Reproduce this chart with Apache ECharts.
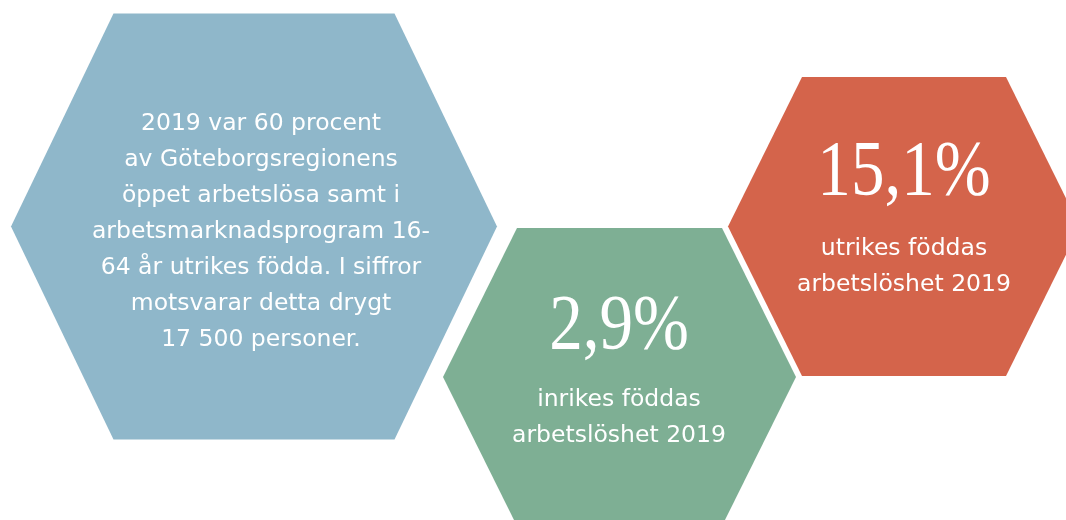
<!DOCTYPE html>
<html><head><meta charset="utf-8">
<script src="https://cdn.jsdelivr.net/npm/echarts@6/dist/echarts.min.js"></script>
<style>html,body{margin:0;padding:0;background:#fff}#c{width:1066px;height:520px}</style>
</head><body><div id="c"></div>
<script>
// ---- data ----
const categories = ['andel utrikes födda bland arbetslösa', 'inrikes föddas arbetslöshet', 'utrikes föddas arbetslöshet'];
const values = [60, 2.9, 15.1];
const year = 2019;
const persons = 17500;

// ---- layout (pixel space of the hidden axes) ----
const hexLayout = [
  {cx: 254, cy: 226.5, top: 140.5, side: 243, half: 213},
  {cx: 619.5, cy: 377, top: 102.5, side: 176.5, half: 149},
  {cx: 904, cy: 226.5, top: 102, side: 176, half: 149.5}
];
const textLayout = [
  {x: 261, y: 232},
  {x: 619, y: 328, capY: 418},
  {x: 904, y: 174, capY: 267}
];
const colors = ['#8fb7ca', '#7eaf94', '#d4644b'];

function fmtPct(v) { return v.toFixed(1).replace('.', ',') + '%'; }
function fmtInt(v) { return String(v).replace(/\B(?=(\d{3})+(?!\d))/g, ' '); }

const blueText = [
  year + ' var ' + values[0] + ' procent',
  'av Göteborgsregionens',
  'öppet arbetslösa samt i',
  'arbetsmarknadsprogram 16-',
  '64 år utrikes födda. I siffror',
  'motsvarar detta drygt',
  fmtInt(persons) + ' personer.'
].join('\n');

const SANS = "'DejaVu Sans', sans-serif";
const SERIF = "'Liberation Serif', 'DejaVu Serif', serif";

const chart = echarts.init(document.getElementById('c'), null, {renderer: 'canvas'});
chart.setOption({
  animation: false,
  backgroundColor: '#ffffff',
  grid: {left: 0, right: 0, top: 0, bottom: 0},
  xAxis: {type: 'value', min: 0, max: 1066, show: false},
  yAxis: {type: 'value', min: 0, max: 520, inverse: true, show: false},
  series: [{
    type: 'custom',
    data: categories.map((c, i) => [i, values[i]]),
    renderItem: function (params, api) {
      const i = api.value(0);
      const v = api.value(1);
      const h = hexLayout[i];
      const pts = [
        [h.cx - h.top, h.cy - h.half], [h.cx + h.top, h.cy - h.half],
        [h.cx + h.side, h.cy], [h.cx + h.top, h.cy + h.half],
        [h.cx - h.top, h.cy + h.half], [h.cx - h.side, h.cy]
      ].map(p => api.coord(p));
      const children = [{type: 'polygon', shape: {points: pts}, style: {fill: colors[i]}}];
      const t = textLayout[i];
      const tp = api.coord([t.x, t.y]);
      if (i === 0) {
        children.push({type: 'text', x: tp[0], y: tp[1], style: {
          text: blueText, fill: '#ffffff', font: '400 23.5px ' + SANS,
          align: 'center', verticalAlign: 'middle', lineHeight: 36}});
      } else {
        children.push({type: 'text', x: tp[0], y: tp[1], scaleX: 0.86, style: {
          text: fmtPct(v), fill: '#ffffff', font: '400 78px ' + SERIF,
          align: 'center', verticalAlign: 'middle'}});
        const cp = api.coord([t.x, t.capY]);
        children.push({type: 'text', x: cp[0], y: cp[1], style: {
          text: categories[i].replace(' arbetslöshet', '\narbetslöshet ' + year),
          fill: '#ffffff', font: '400 23.5px ' + SANS,
          align: 'center', verticalAlign: 'middle', lineHeight: 36}});
      }
      return {type: 'group', children: children};
    }
  }]
});
</script></body></html>
